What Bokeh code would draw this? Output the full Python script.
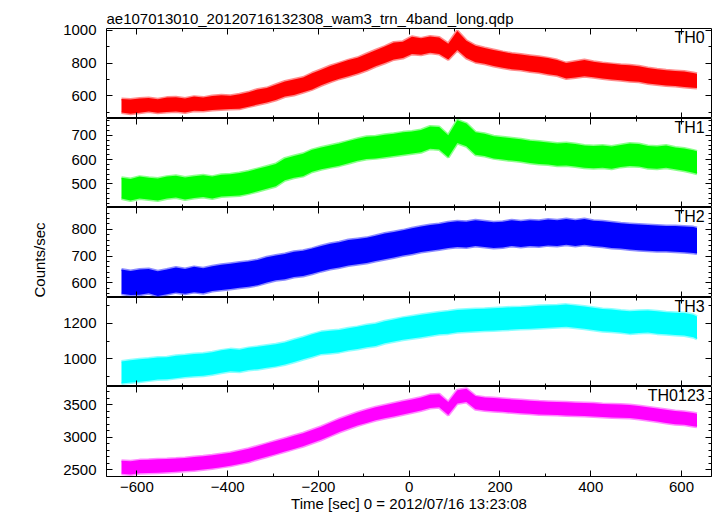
from bokeh.plotting import figure
from bokeh.layouts import column
from bokeh.models import (Range1d, LinearAxis, SingleIntervalTicker, Label, Title,
                          CustomJSTickFormatter)
from bokeh.embed import file_html
from bokeh.resources import INLINE

# ---------------- data ----------------
time_sec = list(range(-634, 627, 20)) + [634]

th0_low = [500, 492, 498, 505, 498, 502, 506, 500, 510, 508, 515, 518, 520, 522, 535, 548, 560, 575, 596, 606,
           622, 640, 665, 686, 705, 720, 736, 756, 780, 800, 822, 830, 855, 850, 862, 855, 822, 880, 830, 805,
           795, 782, 772, 762, 758, 748, 742, 732, 724, 706, 712, 720, 714, 706, 700, 696, 690, 686, 676, 670,
           664, 660, 655, 650, 648]
th0_high = [582, 578, 585, 588, 580, 590, 592, 585, 596, 590, 600, 605, 602, 610, 622, 640, 648, 668, 688, 700,
            712, 738, 760, 782, 800, 818, 832, 855, 878, 900, 925, 930, 960, 950, 962, 955, 918, 995, 935, 905,
            892, 880, 868, 858, 852, 845, 838, 830, 818, 800, 810, 818, 808, 800, 795, 790, 786, 780, 770, 762,
            756, 752, 748, 740, 735]

th1_low = [440, 432, 440, 436, 432, 440, 444, 436, 442, 446, 440, 448, 450, 452, 460, 470, 480, 490, 515, 525,
           532, 550, 560, 568, 575, 585, 595, 602, 605, 610, 615, 620, 625, 630, 645, 642, 610, 668, 655, 620,
           615, 605, 600, 596, 592, 586, 582, 580, 575, 576, 572, 566, 564, 566, 562, 570, 574, 572, 564, 562,
           566, 560, 554, 546, 542]
th1_high = [525, 520, 530, 525, 522, 530, 534, 526, 532, 536, 530, 538, 540, 545, 552, 562, 572, 582, 605, 615,
            624, 640, 650, 658, 666, 676, 686, 694, 696, 702, 706, 712, 716, 722, 736, 734, 700, 762, 748, 712,
            706, 696, 692, 688, 684, 678, 674, 670, 666, 668, 664, 658, 656, 658, 654, 660, 666, 664, 656, 654,
            658, 650, 646, 638, 634]

th2_low = [560, 555, 556, 562, 552, 558, 565, 560, 566, 562, 570, 574, 578, 582, 586, 592, 602, 610, 614, 622,
           626, 634, 644, 652, 658, 665, 670, 674, 682, 688, 695, 702, 708, 715, 720, 725, 730, 734, 732, 738,
           734, 730, 732, 738, 734, 738, 736, 740, 738, 742, 738, 742, 738, 735, 730, 728, 725, 722, 720, 718,
           718, 716, 714, 712, 710]
th2_high = [650, 645, 650, 652, 644, 650, 658, 652, 660, 655, 662, 668, 672, 676, 680, 686, 696, 702, 708, 716,
            720, 728, 738, 746, 752, 760, 764, 768, 776, 784, 790, 796, 804, 810, 816, 820, 826, 830, 828, 834,
            830, 826, 828, 834, 830, 834, 832, 836, 834, 838, 834, 838, 832, 830, 826, 822, 820, 818, 816, 814,
            812, 812, 810, 808, 805]

th3_low = [862, 868, 872, 878, 884, 886, 892, 898, 902, 906, 912, 922, 930, 928, 938, 942, 950, 958, 968, 982,
           998, 1012, 1028, 1032, 1038, 1048, 1055, 1065, 1072, 1088, 1098, 1108, 1115, 1122, 1130, 1138, 1142,
           1150, 1152, 1155, 1158, 1160, 1162, 1165, 1168, 1170, 1172, 1175, 1178, 1180, 1175, 1170, 1162, 1155,
           1152, 1148, 1142, 1145, 1148, 1142, 1138, 1135, 1132, 1122, 1112]
th3_high = [985, 992, 998, 1002, 1008, 1010, 1018, 1022, 1028, 1030, 1038, 1048, 1055, 1052, 1062, 1068, 1075,
            1082, 1092, 1108, 1122, 1138, 1152, 1158, 1162, 1172, 1180, 1190, 1198, 1212, 1222, 1232, 1240, 1248,
            1255, 1262, 1268, 1275, 1278, 1280, 1282, 1285, 1288, 1290, 1292, 1295, 1298, 1300, 1302, 1305, 1300,
            1295, 1288, 1280, 1278, 1272, 1268, 1270, 1272, 1268, 1262, 1260, 1258, 1248, 1238]

th0123_low = [2440, 2425, 2445, 2450, 2455, 2460, 2470, 2480, 2490, 2505, 2520, 2540, 2560, 2590, 2620, 2660,
              2700, 2740, 2780, 2820, 2860, 2910, 2960, 3020, 3080, 3130, 3180, 3220, 3260, 3290, 3320, 3350,
              3380, 3410, 3450, 3460, 3340, 3520, 3540, 3430, 3410, 3400, 3390, 3380, 3370, 3360, 3350, 3345,
              3340, 3335, 3330, 3325, 3320, 3310, 3305, 3300, 3295, 3280, 3260, 3240, 3220, 3200, 3190, 3170, 3160]
th0123_high = [2640, 2630, 2648, 2652, 2660, 2665, 2672, 2682, 2695, 2708, 2722, 2742, 2762, 2792, 2822, 2862,
               2902, 2942, 2982, 3022, 3062, 3112, 3162, 3222, 3282, 3332, 3382, 3422, 3462, 3492, 3522, 3552,
               3582, 3612, 3652, 3662, 3540, 3722, 3745, 3632, 3612, 3602, 3592, 3582, 3572, 3562, 3552, 3547,
               3542, 3537, 3532, 3527, 3522, 3512, 3507, 3502, 3497, 3482, 3462, 3442, 3422, 3402, 3392, 3372, 3362]

band_names = ["TH0", "TH1", "TH2", "TH3", "TH0123"]
band_lows = [th0_low, th1_low, th2_low, th3_low, th0123_low]
band_highs = [th0_high, th1_high, th2_high, th3_high, th0123_high]

title_text = "ae107013010_20120716132308_wam3_trn_4band_long.qdp"
x_title = "Time [sec] 0 = 2012/07/16 13:23:08"
y_title = "Counts/sec"

# ---------------- styling / layout ----------------
FONT = "Liberation Sans"
colors = ["#ff0000", "#00ff00", "#0000ff", "#00ffff", "#ff00ff"]
y_limits = [(463, 1010), (403, 769), (546, 881), (845, 1345), (2396, 3780)]
y_ticks = [(200, 2), (100, 5), (100, 5), (200, 2), (500, 5)]
x_limits = (-667, 666)
FRAME_W = 605
FRAME_HS = [90, 89, 90, 89, 90]

minus_fmt = "return tick < 0 ? '\u2212' + (-tick) : String(tick);"
blank_fmt = "return '';"


def frame_axis(interval, minors, labelled, standoff=10):
    ax = LinearAxis(ticker=SingleIntervalTicker(interval=interval, num_minor_ticks=minors),
                    axis_line_color=None,
                    major_tick_in=6, major_tick_out=0, minor_tick_in=3, minor_tick_out=0,
                    major_tick_line_color="black", minor_tick_line_color="black")
    if labelled:
        ax.formatter = CustomJSTickFormatter(code=minus_fmt)
        ax.major_label_text_font = FONT
        ax.major_label_text_font_size = "15px"
        ax.major_label_text_color = "black"
        ax.major_label_standoff = standoff
    else:
        ax.formatter = CustomJSTickFormatter(code=blank_fmt)
        ax.major_label_text_font_size = "0px"
        ax.major_label_standoff = 0
    return ax


xr = Range1d(*x_limits)
figs = []
for k in range(5):
    first, last = k == 0, k == 4
    ylo, yhi = y_limits[k]
    p = figure(frame_width=FRAME_W, frame_height=FRAME_HS[k], x_range=xr, y_range=Range1d(ylo, yhi),
               output_backend="svg", toolbar_location=None,
               x_axis_location=None, y_axis_location=None,
               title=title_text if first else None,
               min_border_left=106, min_border_right=4,
               min_border_top=28 if first else 0, min_border_bottom=38 if last else 0,
               outline_line_color="black", outline_line_width=1,
               background_fill_color="white", border_fill_color="white")
    p.xgrid.visible = False
    p.ygrid.visible = False
    if first:
        p.title.align = "left"
        p.title.text_font = FONT
        p.title.text_font_size = "15px"
        p.title.text_font_style = "normal"
        p.title.text_color = "black"
        p.title.standoff = 4
        p.title.offset = 0

    # light fringe for the noise spikes, then the dense core of the light curve
    p.line(x=time_sec, y=band_lows[k], line_color=colors[k], line_width=3, line_alpha=0.45)
    p.line(x=time_sec, y=band_highs[k], line_color=colors[k], line_width=3, line_alpha=0.45)
    p.varea(x=time_sec, y1=band_lows[k], y2=band_highs[k], fill_color=colors[k])

    iv, mn = y_ticks[k]
    p.add_layout(frame_axis(iv, mn, True), "left")
    if k == 2:
        p.add_layout(Title(text=y_title, align="right", offset=15, standoff=42,
                           text_font=FONT, text_font_size="15px", text_font_style="normal",
                           text_color="black"), "left")
    p.add_layout(frame_axis(iv, mn, False), "right")
    p.add_layout(frame_axis(200, 2, False), "above")
    bottom = frame_axis(200, 2, last, standoff=5)
    if last:
        bottom.axis_label = x_title
        bottom.axis_label_text_font = FONT
        bottom.axis_label_text_font_size = "15px"
        bottom.axis_label_text_font_style = "normal"
        bottom.axis_label_text_color = "black"
        bottom.axis_label_standoff = 0
    p.add_layout(bottom, "below")

    p.add_layout(Label(x=x_limits[1] - 15, y=yhi, text=band_names[k], text_align="right",
                       text_baseline="top", text_font=FONT, text_font_size="16px", text_color="black"))
    figs.append(p)

layout = column(*figs, spacing=0)
open("out.html", "w").write(file_html(layout, INLINE))
